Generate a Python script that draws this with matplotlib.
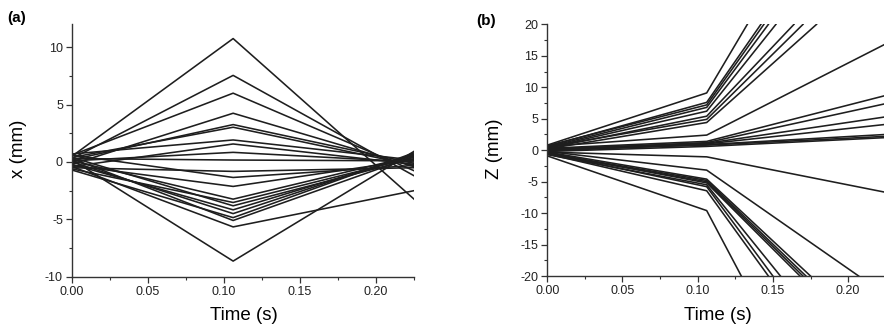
import matplotlib
matplotlib.use("Agg")
import matplotlib.pyplot as plt
from matplotlib.ticker import MultipleLocator, FormatStrFormatter

plt.rcParams['font.family'] = ['Liberation Sans', 'DejaVu Sans']

# ---------------- Panel (a): x (mm) vs time ----------------
a_times = [0.0, 0.106, 0.225]
a_start = [0.5, 0.3, 0.6, -0.2, 0.2, 0.4, 0.7, -0.4, 0.1, 0.3, -0.5,
           0.6, -0.3, 0.1, -0.6, 0.4, -0.2, 0.0, -0.7, 0.3, -0.4, 0.2]
a_peak = [10.76, 7.55, 6.0, 4.25, 3.26, 3.03, 1.92, 1.57, 0.84, 0.17, -0.82,
          -1.35, -2.13, -3.24, -3.53, -3.82, -4.17, -4.5, -4.85, -5.1, -5.66, -8.64]
a_end = [-3.24, -1.2, -0.76, -0.41, -0.12, -0.3, 0.17, -0.2, 0.0, 0.1, -0.5,
         -0.3, 0.2, 0.55, 0.4, 0.3, 0.6, 0.7, 0.8, 0.5, -2.5, 0.93]

# ---------------- Panel (b): Z (mm) vs time ----------------
b_knee_t = 0.106
b_start = [0.8, 0.6, 0.7, 0.5, 0.4, 0.3, 0.5, 0.2,
           0.6, 0.3, 0.1, 0.2, 0.0, -0.1, 0.1, -0.2,
           -0.3, -0.9, -0.6, -0.5, -0.7, -0.4, -0.6, -0.5, -0.3, -0.2]
b_knee = [9.1, 7.6, 7.2, 6.8, 6.2, 5.4, 4.9, 4.4,
          2.4, 1.4, 1.2, 1.1, 1.0, 0.9, 0.8, 0.6,
          -1.06, -9.6, -6.45, -5.8, -5.5, -5.2, -5.0, -4.8, -4.6, -3.17]
b_end_t = [0.133, 0.142, 0.144, 0.147, 0.152, 0.164, 0.170, 0.179,
           0.225, 0.225, 0.225, 0.225, 0.225, 0.225, 0.225, 0.225,
           0.225, 0.129, 0.147, 0.150, 0.155, 0.168, 0.170, 0.172, 0.175, 0.207]
b_end = [20, 20, 20, 20, 20, 20, 20, 20,
         16.9, 8.7, 7.4, 5.3, 4.1, 2.5, 2.2, 2.0,
         -6.7, -20, -20, -20, -20, -20, -20, -20, -20, -20]

line_color = '#1e1e1e'
lw = 1.15

fig = plt.figure(figsize=(8.84, 3.29), dpi=100)
axa = fig.add_axes([0.0814, 0.159, 0.387, 0.767])
axb = fig.add_axes([0.619, 0.161, 0.383, 0.765])

for s, p, e in zip(a_start, a_peak, a_end):
    axa.plot(a_times, [s, p, e], color=line_color, lw=lw)

for s, k, te, ze in zip(b_start, b_knee, b_end_t, b_end):
    axb.plot([0.0, b_knee_t, te], [s, k, ze], color=line_color, lw=lw)

axa.set_xlim(0, 0.225)
axa.set_ylim(-10, 12)
axa.yaxis.set_major_locator(MultipleLocator(5))
axa.yaxis.set_minor_locator(MultipleLocator(2.5))
axa.set_ylabel('x (mm)', fontsize=13.5)
axa.yaxis.set_label_coords(-0.156, 0.506)

axb.set_xlim(0, 0.225)
axb.set_ylim(-20, 20)
axb.yaxis.set_major_locator(MultipleLocator(5))
axb.yaxis.set_minor_locator(MultipleLocator(2.5))
axb.set_ylabel('Z (mm)', fontsize=13.5)
axb.yaxis.set_label_coords(-0.157, 0.506)

for ax, xc in ((axa, 0.503), (axb, 0.504)):
    ax.spines['top'].set_visible(False)
    ax.spines['right'].set_visible(False)
    for sp in ('left', 'bottom'):
        ax.spines[sp].set_linewidth(1.0)
        ax.spines[sp].set_color('#333333')
    ax.xaxis.set_major_locator(MultipleLocator(0.05))
    ax.xaxis.set_minor_locator(MultipleLocator(0.025))
    ax.xaxis.set_major_formatter(FormatStrFormatter('%.2f'))
    ax.yaxis.set_major_formatter(FormatStrFormatter('%d'))
    ax.tick_params(which='major', direction='out', length=4, width=0.9,
                   labelsize=9, pad=2.5, colors='#333333', labelcolor='#222222')
    ax.tick_params(which='minor', direction='out', length=2, width=0.8, colors='#333333')
    ax.set_xlabel('Time (s)', fontsize=13.5)
    ax.xaxis.set_label_coords(xc, -0.155)
    ax.xaxis.label.set_va('center')
    ax.yaxis.label.set_va('center')

fig.text(0.008, 0.945, '(a)', fontsize=11, fontweight='bold', ha='left', va='center')
fig.text(0.539, 0.935, '(b)', fontsize=11, fontweight='bold', ha='left', va='center')

fig.savefig('out.png', dpi=100)
